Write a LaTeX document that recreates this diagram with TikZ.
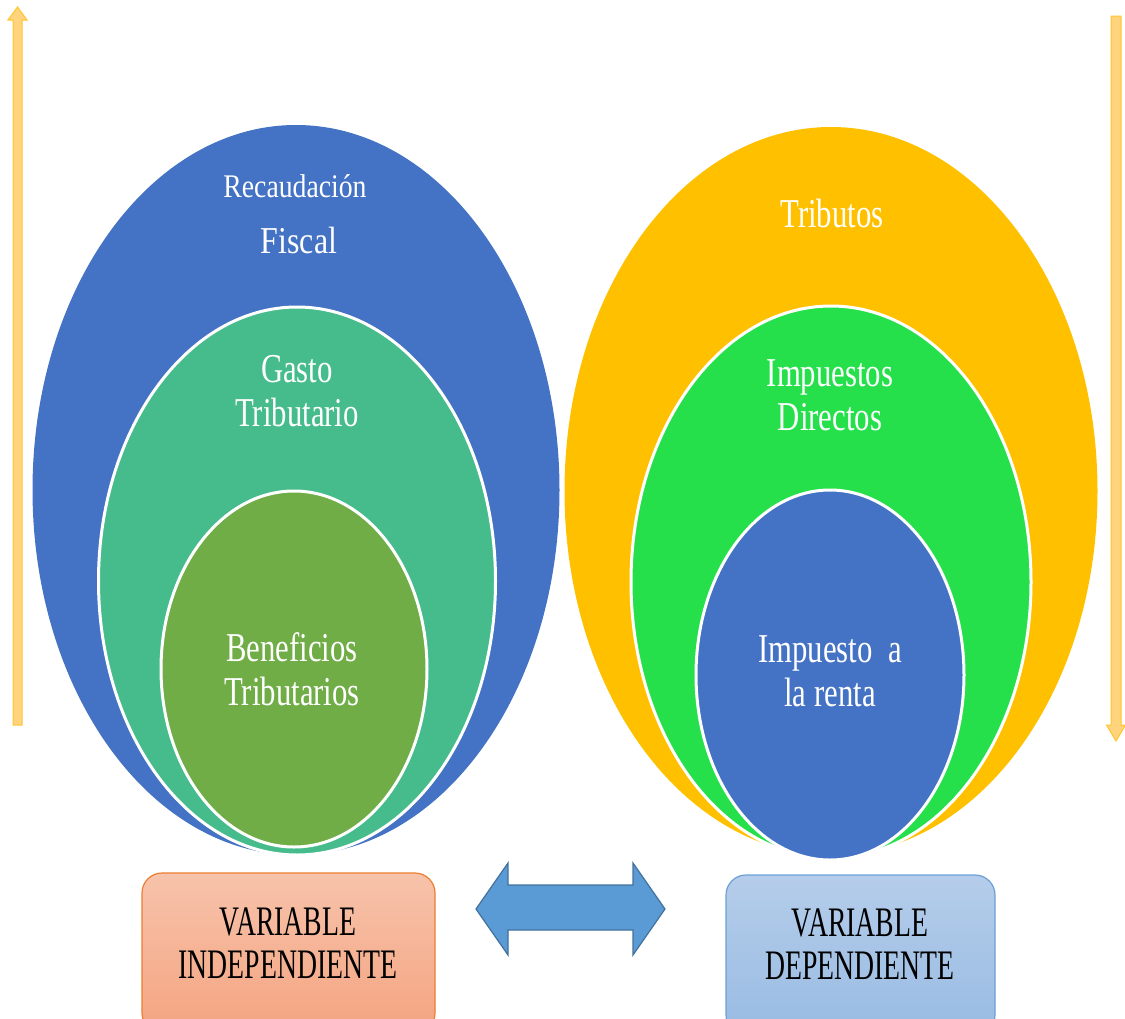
\documentclass[tikz,border=0pt]{standalone}
\usepackage{fontspec}
\usetikzlibrary{shapes.geometric}
\newfontfamily\narrowserif[FakeStretch=0.75]{Liberation Serif}
\newfontfamily\midserif[FakeStretch=0.84]{Liberation Serif}
\newfontfamily\boxserif[FakeStretch=0.66]{Liberation Serif}

\definecolor{ofblue}{HTML}{4472C4}
\definecolor{ofteal}{HTML}{46BB8C}
\definecolor{ofgreen}{HTML}{70AD47}
\definecolor{ofyellow}{HTML}{FFC000}
\definecolor{oflime}{HTML}{25E04B}
\definecolor{sidefill}{HTML}{FFD47C}
\definecolor{sideline}{HTML}{FFC52E}
\definecolor{arrowfill}{HTML}{5B9BD5}
\definecolor{arrowline}{HTML}{41719C}
\definecolor{peachtop}{HTML}{F7C3AB}
\definecolor{peachbot}{HTML}{F4A480}
\definecolor{peachline}{HTML}{ED7D31}
\definecolor{skytop}{HTML}{B5CDEA}
\definecolor{skybot}{HTML}{98BBE3}
\definecolor{skyline}{HTML}{6C9FD6}

\tikzset{
  oval/.style={ellipse, inner sep=0pt, outer sep=0pt},
  ring/.style={oval, draw=white, line width=3pt},
  circtext/.style={text=white, align=center, inner sep=0pt, font=\narrowserif\fontsize{41}{44}\selectfont},
  varbox/.style={rounded corners=20pt, line width=1.2pt, inner sep=0pt},
  boxtext/.style={text=black, align=center, inner sep=0pt, font=\boxserif\fontsize{42}{43}\selectfont},
  sidearrow/.style={fill=sidefill, draw=sideline, line width=1pt, line join=miter},
}

\begin{document}
\begin{tikzpicture}[x=1pt, y=-1pt]
\useasboundingbox (0,0) rectangle (1125,1018);
\clip (0,0) rectangle (1125,1018);

% left set of nested ovals
\node[oval, fill=ofblue, minimum width=527pt, minimum height=730pt] (fiscal) at (296,490) {};
\node[ring, fill=ofteal, minimum width=397pt, minimum height=548pt] (gasto) at (297,581) {};
\node[ring, fill=ofgreen, minimum width=266pt, minimum height=356pt] (benef) at (294,669) {};

% right set of nested ovals
\node[oval, fill=ofyellow, minimum width=533pt, minimum height=728pt] (tributos) at (831,491) {};
\node[ring, fill=oflime, minimum width=400pt, minimum height=552pt] (directos) at (831,582) {};
\node[ring, fill=ofblue, minimum width=268pt, minimum height=370pt] (renta) at (830,675) {};

% labels of the ovals
\node[circtext, anchor=base, font=\midserif\fontsize{33}{36}\selectfont] (trecaud) at (295,197) {Recaudación};
\node[circtext, anchor=base, font=\midserif\fontsize{38}{40}\selectfont] (tfiscal) at (299,253) {Fiscal};
\node[circtext] (tgasto) at (297,391) {Gasto\\Tributario};
\node[circtext] (tbenef) at (292,669) {Beneficios\\Tributarios};
\node[circtext, anchor=base] (ttrib) at (832,227) {Tributos};
\node[circtext] (tdirect) at (830,395) {Impuestos\\Directos};
\node[circtext] (trenta) at (830,671) {Impuesto\ \ a\\la renta};

% vertical side arrows
\coordinate (upbot) at (17.5,725);
\coordinate (uptip) at (17.5,7);
\draw[sidearrow] (13,725) -- (13,20) -- (8,20) -- (uptip) -- (27,20) -- (22,20) -- (22,725) -- cycle;
\coordinate (dntop) at (1116,16);
\coordinate (dntip) at (1116,741);
\draw[sidearrow] (1111,16) -- (1121,16) -- (1121,725) -- (1125.5,725) -- (dntip) -- (1106.5,725) -- (1111,725) -- cycle;

% boxes at the bottom
\node[varbox, draw=peachline, top color=peachtop, bottom color=peachbot,
      minimum width=293pt, minimum height=160pt] (indep) at (288.5,953) {};
\node[varbox, draw=skyline, top color=skytop, bottom color=skybot,
      minimum width=269pt, minimum height=160pt] (dep) at (860.5,955) {};
\node[boxtext] (tindep) at (288,943) {VARIABLE\\INDEPENDIENTE};
\node[boxtext] (tdep) at (860,944) {VARIABLE\\DEPENDIENTE};

% two-headed arrow between the boxes
\coordinate (lefttip) at (476,909);
\coordinate (righttip) at (665,909);
\draw[fill=arrowfill, draw=arrowline, line width=1.2pt, line join=miter]
  (lefttip) -- (508,863) -- (508,885) -- (633,885) -- (633,863) -- (righttip)
  -- (633,955) -- (633,930) -- (508,930) -- (508,955) -- cycle;
\end{tikzpicture}
\end{document}
